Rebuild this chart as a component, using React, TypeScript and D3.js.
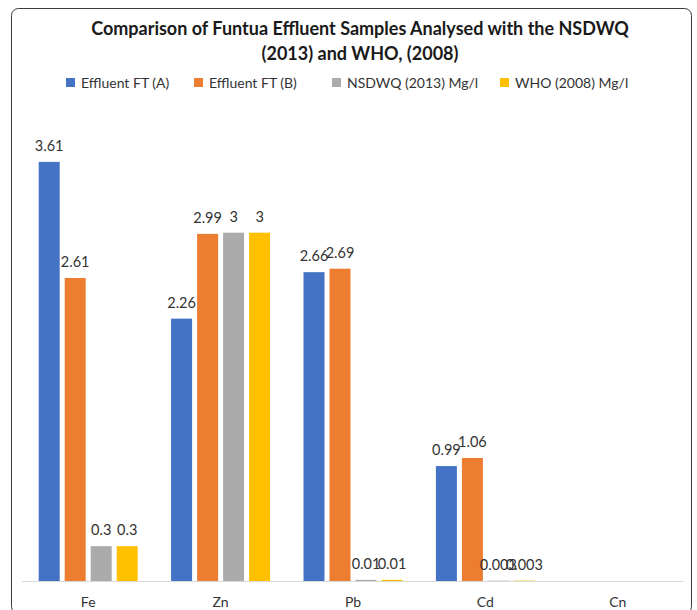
import React, { useEffect, useRef } from 'react';
import * as d3 from 'd3';

// Chart data
const categories = ['Fe', 'Zn', 'Pb', 'Cd', 'Cn'];
const seriesNames = ['Effluent FT (A)', 'Effluent FT (B)', 'NSDWQ (2013) Mg/l', 'WHO (2008) Mg/l'];
const seriesColors = ['#4472C4', '#ED7D31', '#ABABAB', '#FFC000'];
const effluentA = [3.61, 2.26, 2.66, 0.99, 0];
const effluentB = [2.61, 2.99, 2.69, 1.06, 0];
const nsdwq = [0.3, 3, 0.01, 0.003, 0];
const who = [0.3, 3, 0.01, 0.003, 0];
const titleLines = ['Comparison of Funtua Effluent Samples Analysed with the NSDWQ', '(2013) and WHO, (2008)'];

const W = 697;
const H = 610;
const FONT = 'Lato, "Open Sans", sans-serif';

const App: React.FC = () => {
  const svgRef = useRef<SVGSVGElement>(null);

  useEffect(() => {
    if (!svgRef.current) return;
    const svg = d3.select(svgRef.current);
    svg.selectAll('*').remove();

    const seriesValues = [effluentA, effluentB, nsdwq, who];
    const plot = { left: 22, right: 684, top: 100, bottom: 581 };

    // Chart frame
    svg.append('rect')
      .attr('x', 11.5)
      .attr('y', 8.5)
      .attr('width', 680)
      .attr('height', 605)
      .attr('rx', 7)
      .attr('fill', 'white')
      .attr('stroke', '#3a3a3a')
      .attr('stroke-width', 1);

    // Scales
    const x0 = d3.scaleBand<string>()
      .domain(categories)
      .range([plot.left, plot.right])
      .padding(0);

    const groupW = 99;
    const x1 = d3.scaleBand<string>()
      .domain(seriesNames)
      .range([(x0.bandwidth() - groupW) / 2, (x0.bandwidth() + groupW) / 2])
      .paddingInner(5 / 26)
      .paddingOuter(0);

    // 3.61 reaches y=162
    const y = d3.scaleLinear()
      .domain([0, 4])
      .range([plot.bottom, plot.bottom - 4 * 116.1]);

    // Bars + labels
    seriesNames.forEach((name, si) => {
      const vals = seriesValues[si];
      const g = svg.append('g');
      g.selectAll('rect')
        .data(vals.map((v, i) => ({ cat: categories[i], v })))
        .join('rect')
        .attr('x', d => (x0(d.cat) || 0) + (x1(name) || 0))
        .attr('y', d => y(d.v))
        .attr('width', x1.bandwidth())
        .attr('height', d => plot.bottom - y(d.v))
        .attr('fill', seriesColors[si]);

      g.selectAll('text')
        .data(vals.map((v, i) => ({ cat: categories[i], v })).filter(d => d.v > 0))
        .join('text')
        .attr('x', d => (x0(d.cat) || 0) + (x1(name) || 0) + x1.bandwidth() / 2)
        .attr('y', d => y(d.v) - 11)
        .attr('text-anchor', 'middle')
        .style('font-family', FONT)
        .style('font-size', '14.5px')
        .style('fill', '#333')
        .text(d => String(d.v));
    });

    // Axis line
    svg.append('line')
      .attr('x1', plot.left)
      .attr('x2', plot.right)
      .attr('y1', plot.bottom + 0.5)
      .attr('y2', plot.bottom + 0.5)
      .attr('stroke', '#d9d9d9')
      .attr('stroke-width', 1);

    // Category labels
    svg.append('g')
      .selectAll('text')
      .data(categories)
      .join('text')
      .attr('x', d => (x0(d) || 0) + x0.bandwidth() / 2)
      .attr('y', 607)
      .attr('text-anchor', 'middle')
      .style('font-family', FONT)
      .style('font-size', '14px')
      .style('fill', '#333')
      .text(d => d);

    // Title
    svg.append('g')
      .selectAll('text')
      .data(titleLines)
      .join('text')
      .attr('x', 360)
      .attr('y', (_, i) => 35 + i * 25)
      .attr('text-anchor', 'middle')
      .style('font-family', FONT)
      .style('font-size', '18px')
      .style('font-weight', 'bold')
      .style('fill', '#1a1a1a')
      .text(d => d);

    // Legend
    const legendX = [66, 194, 332, 500];
    const legend = svg.append('g');
    seriesNames.forEach((name, i) => {
      legend.append('rect')
        .attr('x', legendX[i])
        .attr('y', 78)
        .attr('width', 9)
        .attr('height', 9)
        .attr('fill', seriesColors[i]);
      legend.append('text')
        .attr('x', legendX[i] + 15)
        .attr('y', 88)
        .style('font-family', FONT)
        .style('font-size', '14px')
        .style('fill', '#333')
        .text(name);
    });
  }, []);

  return (
    <svg
      ref={svgRef}
      width={W}
      height={H}
      style={{ position: 'absolute', left: 0, top: 0, display: 'block', background: 'white' }}
    />
  );
};

export default App;
